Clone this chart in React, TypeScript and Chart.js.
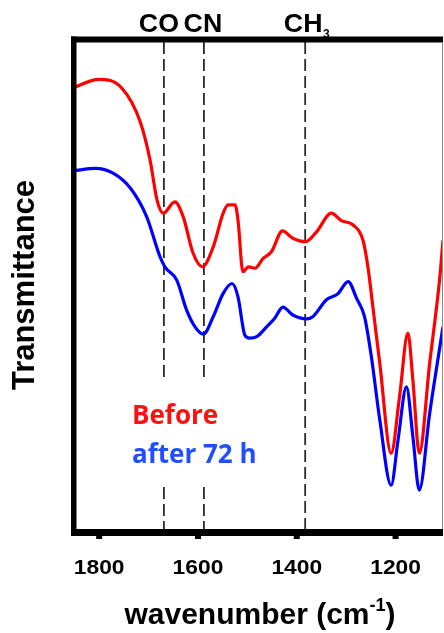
import React, { useEffect, useRef } from "react";
import { Chart, registerables } from "chart.js";

Chart.register(...registerables);

// ---- data ----
const seriesNames = ["Before", "after 72 h"];

const wavenumbersBefore = [1852, 1801, 1754, 1717, 1697, 1683, 1670, 1647, 1630, 1610, 1591, 1569, 1549, 1539, 1525, 1519, 1509, 1498, 1485, 1468, 1451, 1429, 1408, 1382, 1360, 1330, 1310, 1286, 1266, 1256, 1246, 1232, 1209, 1192, 1175, 1165, 1152, 1131, 1111, 1104];
const transmittanceBefore = [90.1, 91.8, 90.0, 83.2, 75.4, 67.3, 64.6, 66.9, 63.9, 56.5, 53.7, 57.8, 64.6, 66.3, 66.3, 63.2, 52.7, 53.7, 53.4, 55.4, 56.8, 61.0, 59.5, 58.8, 60.8, 64.6, 63.1, 62.2, 59.1, 53.7, 45.6, 34.1, 15.8, 27.3, 40.2, 30.7, 15.8, 34.1, 51.0, 59.1];

const wavenumbersAfter = [1852, 1808, 1771, 1737, 1704, 1677, 1667, 1643, 1623, 1606, 1589, 1569, 1549, 1531, 1519, 1505, 1495, 1481, 1461, 1445, 1428, 1408, 1380, 1367, 1340, 1317, 1296, 1279, 1263, 1249, 1232, 1209, 1195, 1178, 1165, 1152, 1131, 1104];
const transmittanceAfter = [73.2, 73.7, 72.7, 69.7, 63.9, 55.8, 53.7, 51.0, 44.9, 41.5, 40.0, 43.6, 48.3, 50.3, 47.6, 39.8, 39.2, 39.5, 41.5, 43.2, 45.5, 43.9, 43.1, 43.6, 47.0, 48.2, 50.7, 47.3, 43.6, 35.4, 22.6, 9.3, 18.5, 29.3, 19.2, 8.3, 23.9, 41.5];

const xTickValues = [1800, 1600, 1400, 1200];
const xTickLabels = ["1800", "1600", "1400", "1200"];

const markerWavenumbers = [1669, 1588, 1383];
const markerLabels = ["CO", "CN", "CH"];
const markerSubscripts = ["", "", "3"];

const xTitle = "wavenumber (cm";
const xTitleSup = "-1";
const yTitle = "Transmittance";

const X_MIN = 1105;
const X_MAX = 1852;

// ---- styles ----
const RED = "#ff0000";
const BLUE = "#0000ff";
const LEGEND_COLORS = ["#ff1010", "#1f4fff"];
const markerLabelOffsets = [-5, -1, -2];
const markerHasGap = [true, true, false];
const ARIAL = '"Liberation Sans", Arial, sans-serif';

function toPoints(xs: number[], ys: number[]) {
  return xs.map((x, i) => ({ x, y: ys[i] }));
}

function stretchedText(ctx: CanvasRenderingContext2D, text: string, cx: number, y: number, sx: number) {
  ctx.save();
  ctx.translate(cx, y);
  ctx.scale(sx, 1);
  ctx.textAlign = "center";
  ctx.fillText(text, 0, 0);
  ctx.restore();
}

const overlayPlugin = {
  id: "overlay",
  beforeDatasetsDraw(chart: any) {
    const { ctx, chartArea, scales } = chart;
    ctx.save();
    ctx.strokeStyle = "#2a2a2a";
    ctx.lineWidth = 1.8;
    ctx.setLineDash([12, 5]);
    markerWavenumbers.forEach((wn, i) => {
      const x = scales.x.getPixelForValue(wn);
      ctx.beginPath();
      if (markerHasGap[i]) {
        ctx.moveTo(x, chartArea.top + 3);
        ctx.lineTo(x, 379);
        ctx.moveTo(x, 487);
        ctx.lineTo(x, chartArea.bottom);
      } else {
        ctx.moveTo(x, chartArea.top + 3);
        ctx.lineTo(x, chartArea.bottom);
      }
      ctx.stroke();
    });
    ctx.restore();
  },
  afterDraw(chart: any) {
    const { ctx, scales } = chart;
    ctx.save();
    ctx.setLineDash([]);

    // marker labels above plot
    ctx.fillStyle = "#000";
    ctx.textBaseline = "alphabetic";
    const SX = 1.07;
    markerLabels.forEach((lab, i) => {
      const x = scales.x.getPixelForValue(markerWavenumbers[i]) + markerLabelOffsets[i];
      ctx.font = `bold 25px ${ARIAL}`;
      const w = ctx.measureText(lab).width * SX;
      stretchedText(ctx, lab, x, 32, SX);
      if (markerSubscripts[i]) {
        ctx.font = `bold 12px ${ARIAL}`;
        ctx.textAlign = "left";
        ctx.fillText(markerSubscripts[i], x + w / 2 + 0.5, 38);
      }
    });

    // frame
    const L = 71, R = 443;
    ctx.fillStyle = "#000";
    ctx.fillRect(L, 36.5, R - L, 6); // top
    ctx.fillRect(L, 36.5, 5.5, 536 - 36.5); // left
    ctx.fillRect(L, 529, R - L, 7); // bottom
    ctx.fillStyle = "#8a8a8a";
    ctx.fillRect(442, 42, 1, 487); // thin right edge

    // ticks and tick labels
    ctx.fillStyle = "#000";
    ctx.font = `bold 20px ${ARIAL}`;
    xTickValues.forEach((v, i) => {
      const x = scales.x.getPixelForValue(v);
      ctx.fillRect(x - 3, 535, 6, 4);
      stretchedText(ctx, xTickLabels[i], x, 574, 1.14);
    });

    // x title with superscript
    ctx.textAlign = "left";
    ctx.font = `bold 30px ${ARIAL}`;
    const wMain = ctx.measureText(xTitle).width;
    const wClose = ctx.measureText(")").width;
    ctx.font = `bold 18px ${ARIAL}`;
    const wSup = ctx.measureText(xTitleSup).width;
    const total = wMain + wSup + wClose;
    let tx = 260 - total / 2;
    ctx.font = `bold 30px ${ARIAL}`;
    ctx.fillText(xTitle, tx, 624);
    tx += wMain;
    ctx.font = `bold 18px ${ARIAL}`;
    ctx.fillText(xTitleSup, tx, 611);
    tx += wSup;
    ctx.font = `bold 30px ${ARIAL}`;
    ctx.fillText(")", tx, 624);

    // y title
    ctx.save();
    ctx.translate(34, 285);
    ctx.rotate(-Math.PI / 2);
    ctx.textAlign = "center";
    ctx.font = `bold 31px ${ARIAL}`;
    ctx.fillText(yTitle, 0, 0);
    ctx.restore();

    // legend texts
    ctx.textAlign = "left";
    ctx.font = `bold 26px "Open Sans", sans-serif`;
    ctx.fillStyle = LEGEND_COLORS[0];
    ctx.fillText(seriesNames[0], 132, 424);
    ctx.fillStyle = LEGEND_COLORS[1];
    ctx.fillText(seriesNames[1], 132, 463);

    ctx.restore();
  },
};

export default function App() {
  const canvasRef = useRef<HTMLCanvasElement | null>(null);

  useEffect(() => {
    const canvas = canvasRef.current;
    if (!canvas) return;
    const chart = new Chart(canvas, {
      type: "scatter",
      data: {
        datasets: [
          {
            label: seriesNames[0],
            data: toPoints(wavenumbersBefore, transmittanceBefore),
            showLine: true,
            borderColor: RED,
            borderWidth: 3.2,
            pointRadius: 0,
            cubicInterpolationMode: "monotone",
          },
          {
            label: seriesNames[1],
            data: toPoints(wavenumbersAfter, transmittanceAfter),
            showLine: true,
            borderColor: BLUE,
            borderWidth: 3.2,
            pointRadius: 0,
            cubicInterpolationMode: "monotone",
          },
        ],
      },
      options: {
        responsive: false,
        devicePixelRatio: 1,
        animation: false,
        events: [],
        layout: { padding: { left: 73.5, right: 1.5, top: 39, bottom: 633 - 531 } },
        plugins: { legend: { display: false }, tooltip: { enabled: false } },
        scales: {
          x: { type: "linear", reverse: true, min: X_MIN, max: X_MAX, display: false },
          y: { type: "linear", min: 0, max: 100, display: false },
        },
      },
      plugins: [overlayPlugin],
    } as any);
    return () => chart.destroy();
  }, []);

  return (
    <div style={{ position: "fixed", left: 0, top: 0, width: 444, height: 633, background: "#fff" }}>
      <canvas ref={canvasRef} width={444} height={633} style={{ display: "block", width: 444, height: 633 }} />
    </div>
  );
}
